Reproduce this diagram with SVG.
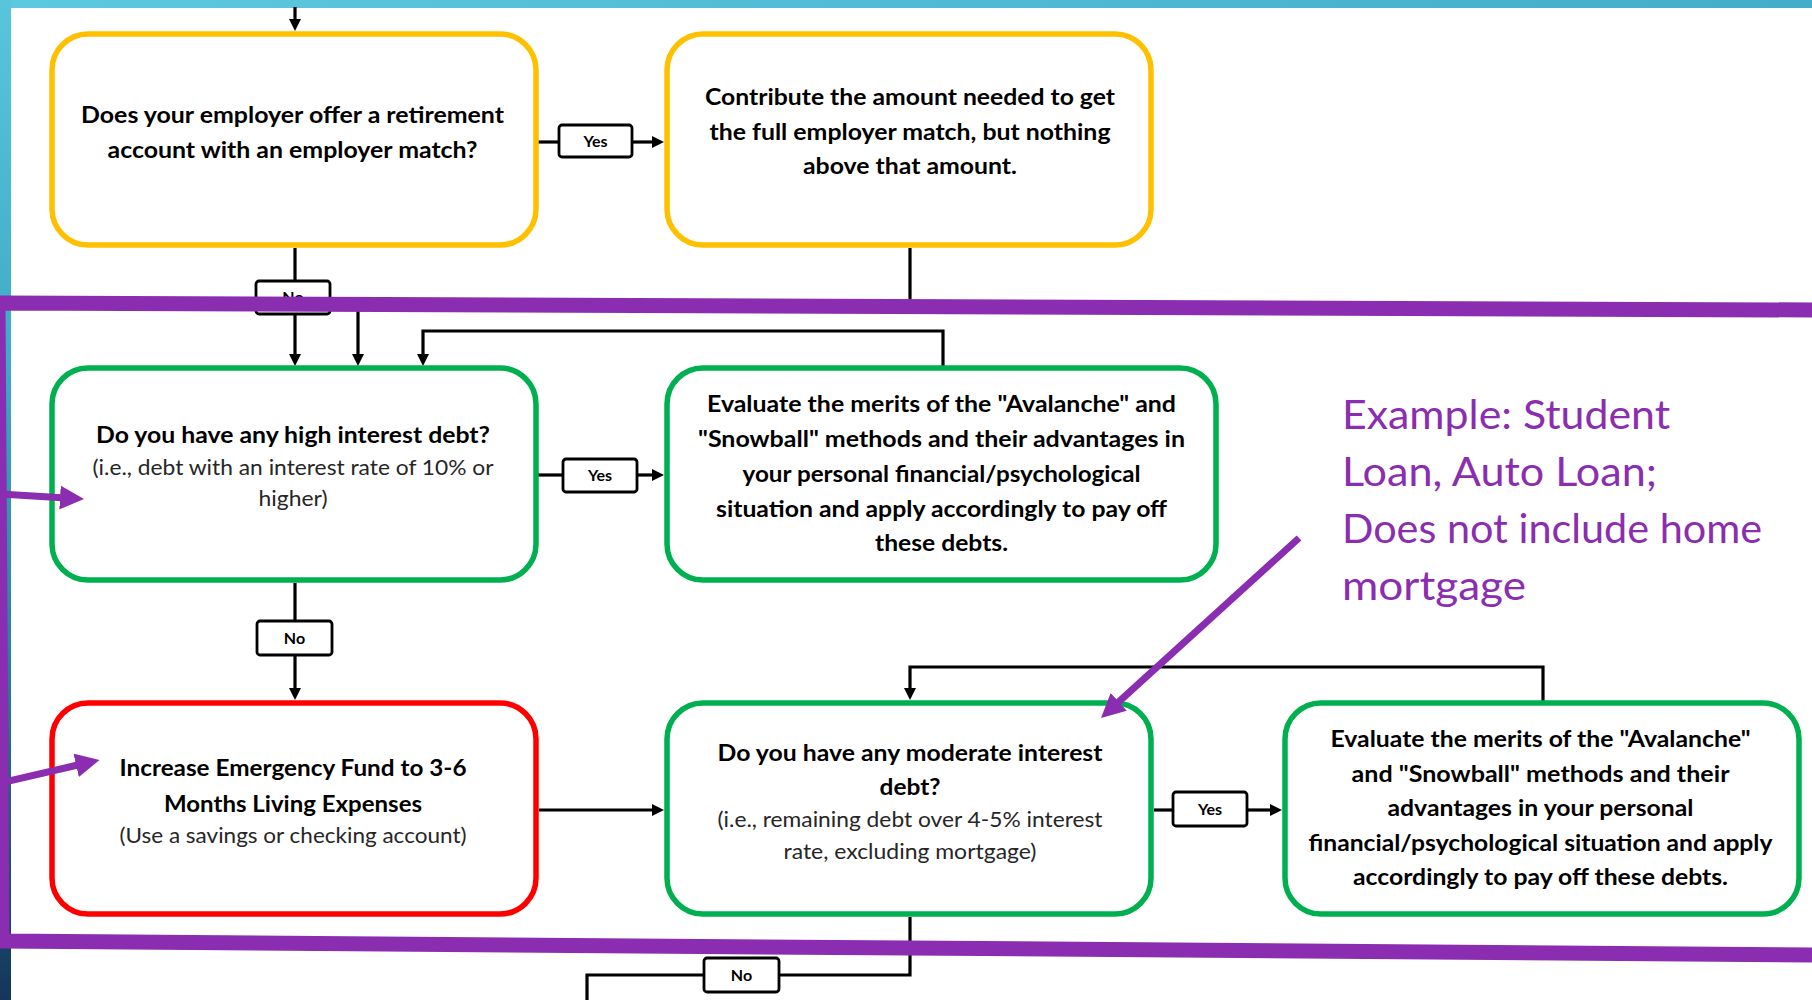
<svg xmlns="http://www.w3.org/2000/svg" width="1812" height="1000" viewBox="0 0 1812 1000">
  <defs>
    <linearGradient id="edgeGrad" x1="0" y1="0" x2="0" y2="1">
      <stop offset="0" stop-color="#57c6db"/>
      <stop offset="0.35" stop-color="#40abc8"/>
      <stop offset="0.65" stop-color="#2c7fa2"/>
      <stop offset="1" stop-color="#14365a"/>
    </linearGradient>
    <linearGradient id="topGrad" x1="0" y1="0" x2="1" y2="0">
      <stop offset="0" stop-color="#5ccadd"/>
      <stop offset="1" stop-color="#44adc9"/>
    </linearGradient>
    <marker id="arrow" markerUnits="userSpaceOnUse" markerWidth="12" markerHeight="12" refX="4" refY="6" orient="auto">
      <path d="M0,0 L12,6 L0,12 Z" fill="#000"/>
    </marker>
    <marker id="parrow" markerUnits="userSpaceOnUse" markerWidth="24" markerHeight="24" refX="6" refY="12" orient="auto">
      <path d="M0,0 L24,12 L0,24 Z" fill="#8a2db0"/>
    </marker>
  </defs>
  <style>
    .box{fill:#fff;stroke-width:5.5}
    .yellow{stroke:#ffc000}
    .green{stroke:#00b050}
    .red{stroke:#ff0000}
    .t{font-family:Lato,"Liberation Sans",sans-serif;font-size:23px;font-weight:bold;fill:#000;text-anchor:middle}
    .s{font-weight:normal;font-size:22px;fill:#262626}
    .conn{fill:none;stroke:#000;stroke-width:3.2}
    .arr{marker-end:url(#arrow)}
    .tag{fill:#fff;stroke:#000;stroke-width:2.8}
    .tagtext{font-family:Lato,"Liberation Sans",sans-serif;font-size:16px;font-weight:bold;fill:#000;text-anchor:middle}
    .note{fill:none;stroke:#8a2db0}
    .notetext{font-family:Lato,"Liberation Sans",sans-serif;font-size:40px;fill:#8a2db0}
  </style>

  <!-- slide background and frame -->
  <rect x="0" y="0" width="1812" height="1000" fill="#fff"/>
  <rect x="0" y="0" width="1812" height="8" fill="url(#topGrad)"/>
  <rect x="0" y="0" width="11" height="1000" fill="url(#edgeGrad)"/>

  <!-- connectors -->
  <g id="connectors">
    <path class="conn arr" d="M295,7 V23"/>
    <path class="conn" d="M538,142 H559"/>
    <path class="conn arr" d="M632,142 H656"/>
    <path class="conn" d="M295,248 V281"/>
    <path class="conn arr" d="M295,314 V358"/>
    <path class="conn arr" d="M910,248 V305 H358 V358"/>
    <path class="conn arr" d="M943,366 V331 H423 V358"/>
    <path class="conn" d="M538,475 H563"/>
    <path class="conn arr" d="M637,475 H656"/>
    <path class="conn" d="M295,583 V621"/>
    <path class="conn arr" d="M295,655 V692"/>
    <path class="conn arr" d="M539,810 H656"/>
    <path class="conn" d="M1154,810 H1173"/>
    <path class="conn arr" d="M1247,810 H1274"/>
    <path class="conn arr" d="M1543,703 V667 H910 V692"/>
    <path class="conn" d="M910,917 V975 H779"/>
    <path class="conn" d="M704,975 H587 V1000"/>

    <rect class="tag" x="559" y="125" width="73" height="32" rx="3"/>
    <text class="tagtext" x="595.5" y="147">Yes</text>
    <rect class="tag" x="256" y="281" width="74" height="33" rx="3"/>
    <text class="tagtext" x="293" y="303">No</text>
    <rect class="tag" x="563" y="459" width="74" height="33" rx="3"/>
    <text class="tagtext" x="600" y="481">Yes</text>
    <rect class="tag" x="257" y="621" width="75" height="34" rx="3"/>
    <text class="tagtext" x="294.5" y="644">No</text>
    <rect class="tag" x="1173" y="792" width="74" height="34" rx="3"/>
    <text class="tagtext" x="1210" y="815">Yes</text>
    <rect class="tag" x="704" y="958" width="75" height="34" rx="3"/>
    <text class="tagtext" x="741.5" y="981">No</text>
  </g>

  <!-- decision and action nodes -->
  <g id="employer-match">
    <rect class="box yellow" x="52" y="34" width="484" height="211" rx="36"/>
    <text class="t" x="292.5" y="123" textLength="423" lengthAdjust="spacingAndGlyphs">Does your employer offer a retirement</text>
    <text class="t" x="292.5" y="158" textLength="370" lengthAdjust="spacingAndGlyphs">account with an employer match?</text>
  </g>

  <g id="contribute-match">
    <rect class="box yellow" x="667" y="34" width="484" height="211" rx="36"/>
    <text class="t" x="910" y="105" textLength="410" lengthAdjust="spacingAndGlyphs">Contribute the amount needed to get</text>
    <text class="t" x="910" y="139.5" textLength="401" lengthAdjust="spacingAndGlyphs">the full employer match, but nothing</text>
    <text class="t" x="910" y="174" textLength="214" lengthAdjust="spacingAndGlyphs">above that amount.</text>
  </g>

  <g id="high-interest">
    <rect class="box green" x="52" y="368" width="484" height="212" rx="36"/>
    <text class="t" x="293" y="443" textLength="394" lengthAdjust="spacingAndGlyphs">Do you have any high interest debt?</text>
    <text class="t s" x="293" y="475" textLength="401" lengthAdjust="spacingAndGlyphs">(i.e., debt with an interest rate of 10% or</text>
    <text class="t s" x="293" y="506" textLength="69" lengthAdjust="spacingAndGlyphs">higher)</text>
  </g>

  <g id="high-payoff">
    <rect class="box green" x="667" y="368" width="549" height="212" rx="36"/>
    <text class="t" x="941.5" y="412" textLength="469" lengthAdjust="spacingAndGlyphs">Evaluate the merits of the "Avalanche" and</text>
    <text class="t" x="941.5" y="447" textLength="487" lengthAdjust="spacingAndGlyphs">"Snowball" methods and their advantages in</text>
    <text class="t" x="941.5" y="482" textLength="398" lengthAdjust="spacingAndGlyphs">your personal financial/psychological</text>
    <text class="t" x="941.5" y="517" textLength="451" lengthAdjust="spacingAndGlyphs">situation and apply accordingly to pay off</text>
    <text class="t" x="941.5" y="551" textLength="133" lengthAdjust="spacingAndGlyphs">these debts.</text>
  </g>

  <g id="emergency-fund">
    <rect class="box red" x="52" y="703" width="484" height="211" rx="36"/>
    <text class="t" x="293" y="776" textLength="347" lengthAdjust="spacingAndGlyphs">Increase Emergency Fund to 3-6</text>
    <text class="t" x="293" y="811.5" textLength="258" lengthAdjust="spacingAndGlyphs">Months Living Expenses</text>
    <text class="t s" x="293" y="843" textLength="347" lengthAdjust="spacingAndGlyphs">(Use a savings or checking account)</text>
  </g>

  <g id="moderate-interest">
    <rect class="box green" x="667" y="703" width="484" height="211" rx="36"/>
    <text class="t" x="910" y="760.5" textLength="385" lengthAdjust="spacingAndGlyphs">Do you have any moderate interest</text>
    <text class="t" x="910" y="795" textLength="61" lengthAdjust="spacingAndGlyphs">debt?</text>
    <text class="t s" x="910" y="826.5" textLength="385" lengthAdjust="spacingAndGlyphs">(i.e., remaining debt over 4-5% interest</text>
    <text class="t s" x="910" y="859" textLength="253" lengthAdjust="spacingAndGlyphs">rate, excluding mortgage)</text>
  </g>

  <g id="moderate-payoff">
    <rect class="box green" x="1285" y="703" width="514" height="211" rx="36"/>
    <text class="t" x="1540.5" y="747" textLength="420" lengthAdjust="spacingAndGlyphs">Evaluate the merits of the "Avalanche"</text>
    <text class="t" x="1540.5" y="781.5" textLength="378" lengthAdjust="spacingAndGlyphs">and "Snowball" methods and their</text>
    <text class="t" x="1540.5" y="816" textLength="306" lengthAdjust="spacingAndGlyphs">advantages in your personal</text>
    <text class="t" x="1540.5" y="850.5" textLength="464" lengthAdjust="spacingAndGlyphs">financial/psychological situation and apply</text>
    <text class="t" x="1540.5" y="885" textLength="375" lengthAdjust="spacingAndGlyphs">accordingly to pay off these debts.</text>
  </g>

  <!-- purple annotation: debt bracket, pointers and note -->
  <g id="annotation">
    <polyline class="note" stroke-width="15" points="1812,310 -2,303 2,941 1812,955"/>
    <line class="note" stroke-width="7" x1="0" y1="494" x2="66" y2="498" marker-end="url(#parrow)"/>
    <line class="note" stroke-width="7" x1="0" y1="783" x2="82" y2="764" marker-end="url(#parrow)"/>
    <line class="note" stroke-width="7" x1="1299" y1="538" x2="1114.3" y2="705.9" marker-end="url(#parrow)"/>
    <text class="notetext" x="1342" y="429" textLength="328" lengthAdjust="spacingAndGlyphs">Example: Student</text>
    <text class="notetext" x="1342" y="486" textLength="315" lengthAdjust="spacingAndGlyphs">Loan, Auto Loan;</text>
    <text class="notetext" x="1342" y="543" textLength="420" lengthAdjust="spacingAndGlyphs">Does not include home</text>
    <text class="notetext" x="1342" y="600" textLength="184" lengthAdjust="spacingAndGlyphs">mortgage</text>
  </g>
</svg>
